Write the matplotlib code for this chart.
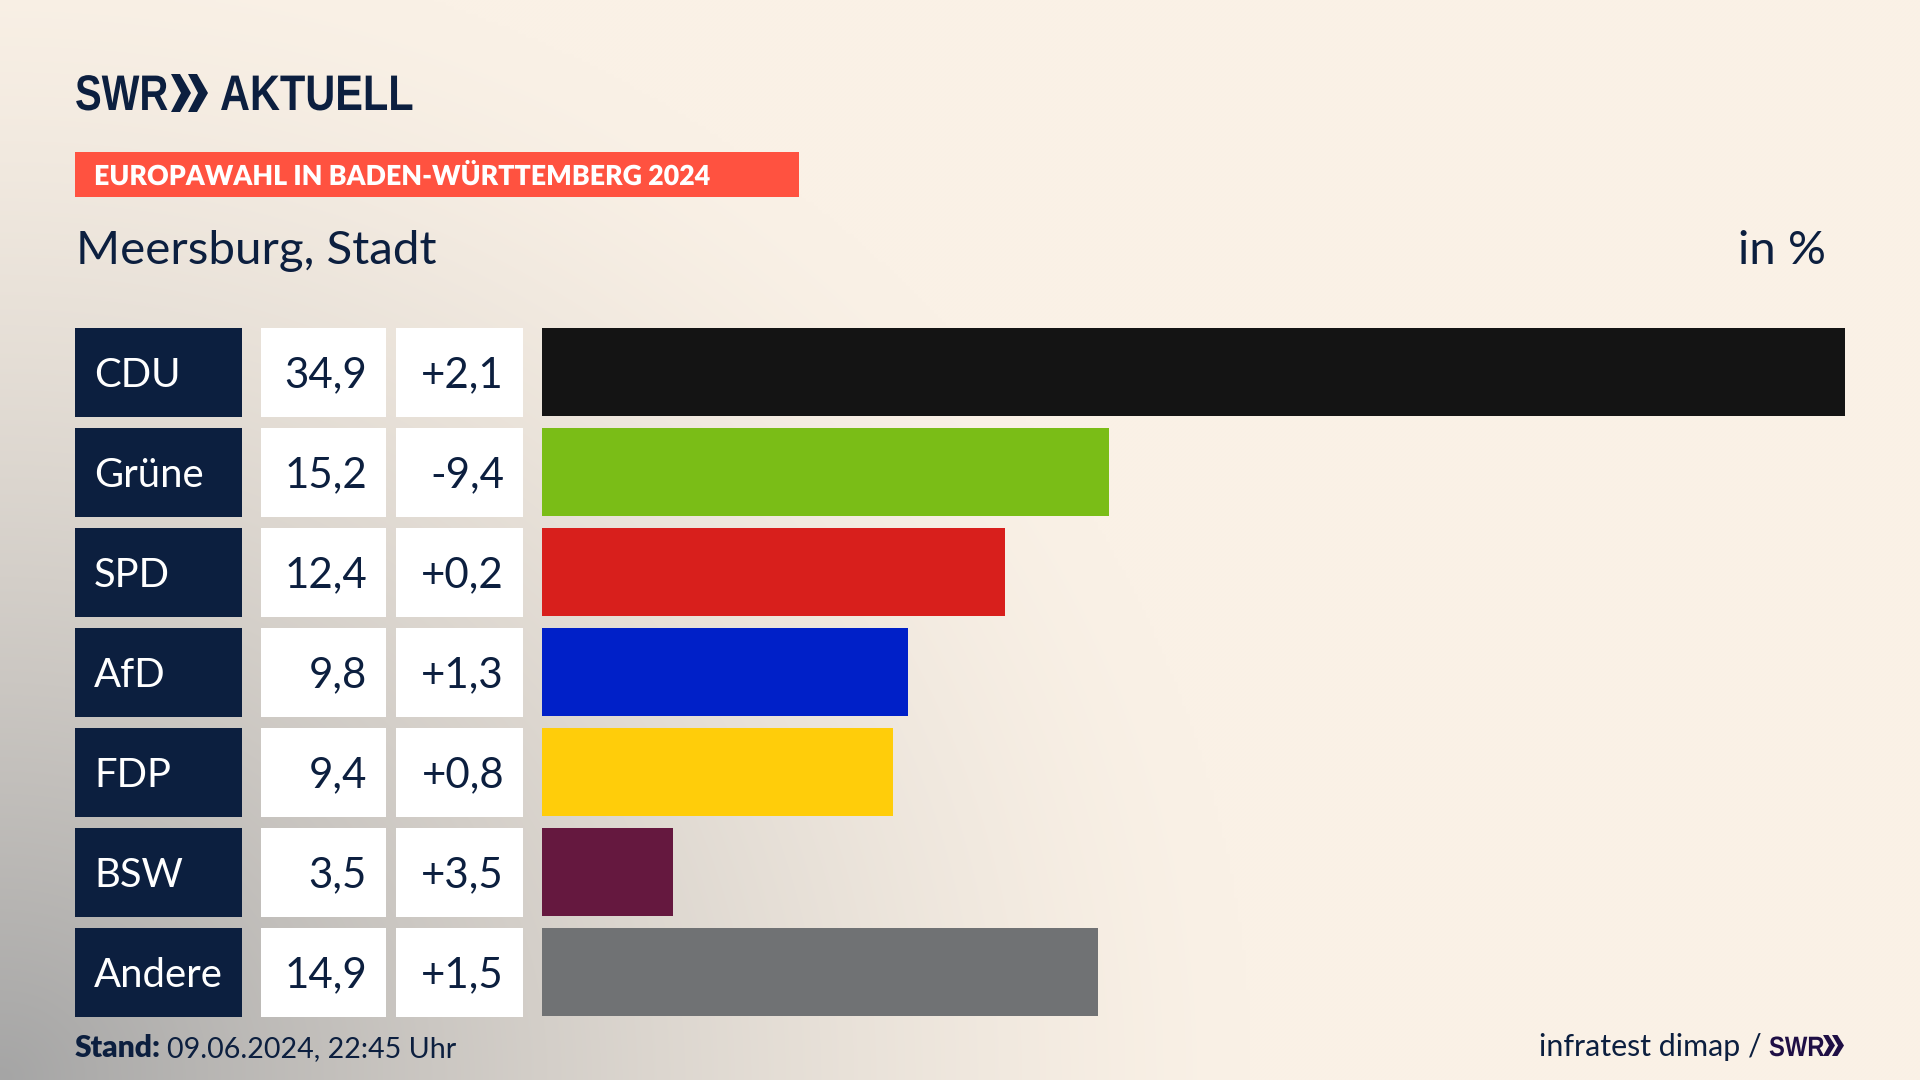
import numpy as np
import matplotlib
matplotlib.use("Agg")
import matplotlib.pyplot as plt
from matplotlib.patches import Polygon, Rectangle
from matplotlib.patheffects import AbstractPathEffect
from matplotlib.transforms import Affine2D

parties = ["CDU", "Grüne", "SPD", "AfD", "FDP", "BSW", "Andere"]
results = [34.9, 15.2, 12.4, 9.8, 9.4, 3.5, 14.9]
changes = [2.1, -9.4, 0.2, 1.3, 0.8, 3.5, 1.5]
colors = ["#141414", "#7ABD17", "#D81F1C", "#0020C8", "#FFCD0A", "#65183F", "#707274"]

NAVY = "#0C1F3F"
W, H = 1920, 1080
DPI = 100
plt.rcParams["font.family"] = ["Lato", "DejaVu Sans"]


class Squeeze(AbstractPathEffect):
    # Text horizontal stauchen, das Logo ist schmaler als jede installierte Schrift
    def __init__(self, x_px, factor):
        super().__init__()
        self.x_px = x_px
        self.factor = factor

    def draw_path(self, renderer, gc, tpath, affine, rgbFace=None):
        squeeze = Affine2D().translate(-self.x_px, 0).scale(self.factor, 1).translate(self.x_px, 0)
        renderer.draw_path(gc, tpath, affine + squeeze, rgbFace)


def px(size):
    # Schriftgroesse in Pixel -> Punkt
    return size * 72 / DPI


def de(value, sign=False):
    text = f"{value:+.1f}" if sign else f"{value:.1f}"
    return text.replace(".", ",")


fig = plt.figure(figsize=(W / DPI, H / DPI), dpi=DPI)

# Hintergrund mit Verlauf von links unten
bg = fig.add_axes([0, 0, 1, 1], zorder=0)
yy, xx = np.mgrid[0:H:270j, 0:W:480j]
dist = np.hypot(xx / 1250, (H - yy) / 1150)
t = np.clip(1 - dist, 0, 1) ** 1.4
cream = np.array([250, 241, 230]) / 255
gray = np.array([165, 165, 165]) / 255
bg.imshow(cream + (gray - cream) * t[..., None], extent=[0, W, H, 0], aspect="auto", interpolation="bilinear")
bg.axis("off")

# Ebene in Pixelkoordinaten fuer Kopf, Zellen und Fuss
ov = fig.add_axes([0, 0, 1, 1], zorder=1)
ov.set_xlim(0, W)
ov.set_ylim(H, 0)
ov.axis("off")
ov.patch.set_alpha(0)


def chevrons(x, top, bottom, width, gap, color):
    mid = (top + bottom) / 2
    for i in range(2):
        x0 = x + i * gap
        ov.add_patch(Polygon([(x0, top), (x0 + width * 0.45, top), (x0 + width, mid),
                              (x0 + width * 0.45, bottom), (x0, bottom), (x0 + width * 0.5, mid)],
                             closed=True, fc=color, ec="none"))


# Logo
ov.text(75, 110, "SWR", fontsize=px(50), fontweight="bold", color=NAVY, va="baseline",
        family="Liberation Sans", path_effects=[Squeeze(75, 0.8)])
chevrons(171, 74, 112, 20, 17, NAVY)
ov.text(220, 110, "AKTUELL", fontsize=px(50), fontweight="bold", color=NAVY, va="baseline",
        family="Liberation Sans", path_effects=[Squeeze(220, 0.83)])

# Kopfzeile
ov.add_patch(Rectangle((75, 152), 724, 45, fc="#FF5240", ec="none"))
ov.text(94, 185, "EUROPAWAHL IN BADEN-WÜRTTEMBERG 2024", fontsize=px(27.5), fontweight="heavy",
        color="white", va="baseline", path_effects=[Squeeze(94, 0.973)])
ov.text(76, 264, "Meersburg, Stadt", fontsize=px(47.5), color=NAVY, va="baseline")
ov.text(1826, 264, "in %", fontsize=px(47.5), color=NAVY, va="baseline", ha="right")

# Zeilen
for i, party in enumerate(parties):
    top = 328 + i * 100
    ov.add_patch(Rectangle((75, top), 167, 88.5, fc=NAVY, ec="none"))
    ov.add_patch(Rectangle((261, top), 125, 88.5, fc="white", ec="none"))
    ov.add_patch(Rectangle((396, top), 127, 88.5, fc="white", ec="none"))
    ov.text(94, top + 59, party, fontsize=px(40), color="white", va="baseline")
    ov.text(367, top + 59, de(results[i]), fontsize=px(42), color=NAVY, va="baseline", ha="right")
    ov.text(504, top + 59, de(changes[i], sign=True), fontsize=px(42), color=NAVY, va="baseline", ha="right")

# Balken
ax = fig.add_axes([542 / W, 1 - 1022 / H, (1845 - 542) / W, 700 / H], zorder=2)
ax.patch.set_alpha(0)
ax.barh(range(len(parties)), results, height=0.885, color=colors)
ax.set_xlim(0, max(results))
ax.set_ylim(6.5, -0.5)
ax.axis("off")

# Fuss
ov.text(75, 1057, "Stand:", fontsize=px(30), fontweight="heavy", color=NAVY, va="baseline")
ov.text(167, 1057, "09.06.2024, 22:45 Uhr", fontsize=px(28.6), color=NAVY, va="baseline")
ov.text(1762, 1056, "infratest dimap /", fontsize=px(30.4), color=NAVY, va="baseline", ha="right")
ov.text(1769, 1056, "SWR", fontsize=px(28), fontweight="bold", color="#1F0F45", va="baseline",
        family="Liberation Sans", path_effects=[Squeeze(1769, 0.85)])
chevrons(1823, 1035, 1056, 12, 9, "#1F0F45")

fig.savefig("out.png", dpi=DPI)
